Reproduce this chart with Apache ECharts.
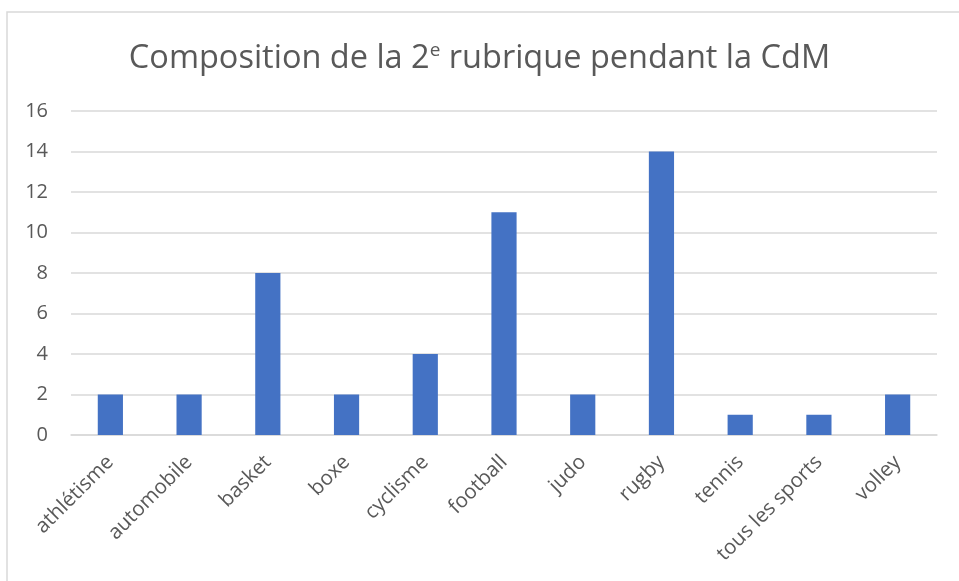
<!DOCTYPE html>
<html><head><meta charset="utf-8">
<script src="https://cdn.jsdelivr.net/npm/echarts@6/dist/echarts.min.js"></script>
<style>html,body{margin:0;padding:0;background:#fff}#c{width:959px;height:581px}</style>
</head><body><div id="c"></div>
<script>
const categories = ["athlétisme","automobile","basket","boxe","cyclisme","football","judo","rugby","tennis","tous les sports","volley"];
const values = [2,2,8,2,4,11,2,14,1,1,2];
const yTicks = {min:0, max:16, interval:2};

const chart = echarts.init(document.getElementById('c'), null, {renderer:'canvas'});
chart.setOption({
  animation:false,
  backgroundColor:'#fff',
  graphic:[{type:'rect', shape:{x:7,y:12,width:1000,height:1000}, style:{fill:'none', stroke:'#d9d9d9', lineWidth:1.5}, silent:true}],
  title:{
    text:'Composition de la 2{sup|e} rubrique pendant la CdM',
    left:'center', top:36,
    textStyle:{fontFamily:'Open Sans', fontSize:32.5, fontWeight:'normal', color:'#595959',
      rich:{sup:{fontFamily:'Open Sans', fontSize:19, color:'#595959', verticalAlign:'top', padding:[0,0,16,0]}}}
  },
  grid:{left:71, right:22, top:111, bottom:146, containLabel:false},
  xAxis:{
    type:'category', data:categories,
    axisLine:{lineStyle:{color:'#d9d9d9', width:1.5}},
    axisTick:{show:false},
    axisLabel:{rotate:45, interval:0, fontFamily:'Open Sans', fontSize:20.5, color:'#595959', margin:24}
  },
  yAxis:{
    type:'value', min:yTicks.min, max:yTicks.max, interval:yTicks.interval,
    axisLine:{show:false}, axisTick:{show:false},
    splitLine:{lineStyle:{color:'#d9d9d9', width:1.5}},
    axisLabel:{fontFamily:'Open Sans', fontSize:20, color:'#595959', margin:23}
  },
  series:[{type:'bar', data:values, barWidth:'32%', itemStyle:{color:'#4472C4'}}]
});
</script></body></html>
